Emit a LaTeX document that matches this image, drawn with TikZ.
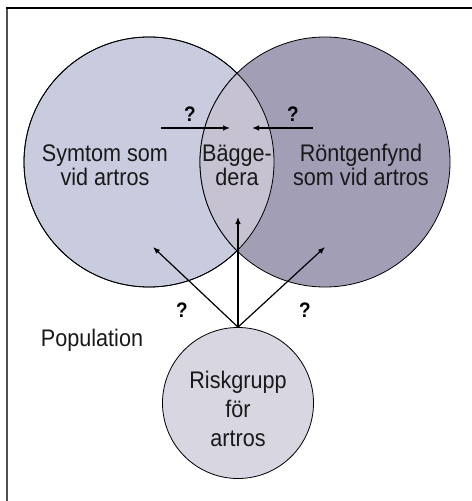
\documentclass[tikz,border=0pt]{standalone}
\usepackage{fontspec}
\setmainfont{Liberation Sans}[FakeStretch=0.9]
\usepackage{tikz}
\usetikzlibrary{arrows.meta, positioning, calc}
\definecolor{symfill}{RGB}{200, 204, 222}
\definecolor{rtgfill}{RGB}{161, 158, 182}
\definecolor{bothfill}{RGB}{198, 194, 210}
\definecolor{riskfill}{RGB}{216, 214, 224}
\definecolor{framegray}{RGB}{80, 80, 80}

\begin{document}
\begin{tikzpicture}[x=1bp, y=-1bp,
    venn/.style={circle, draw, line width=0.8bp, inner sep=0pt, minimum size=250bp},
    lbl/.style={align=center, text=black!90, font=\fontsize{24bp}{24bp}\selectfont},
    ask/.style={font=\fontsize{21bp}{20bp}\selectfont\bfseries},
    pil/.style={-{Latex[length=7bp, width=5.5bp]}, line width=1.2bp}]
    \useasboundingbox (0,0) rectangle (472,501);

    % Ram
    \draw[framegray, line width=2bp] (7,8) -- (7,501);
    \draw[black, line width=1.5bp] (6,8) -- (472,8);

    % Cirklar
    \node[venn, fill=symfill] (symtom) at (149,162) {};
    \node[venn, fill=rtgfill] (rontgen) at (325,162) {};
    \begin{scope}
        \clip (symtom.center) circle (125bp);
        \fill[bothfill, draw=black, line width=0.8bp] (rontgen.center) circle (125bp);
    \end{scope}
    \draw[line width=0.8bp] (symtom.center) circle (125bp);
    \node[venn, fill=riskfill, minimum size=151bp] (risk) at (238,403) {};

    % Texter
    \node[lbl] (symtxt) at (105,165) {Symtom som\\vid artros};
    \node[lbl] (bothtxt) at (237,165) {Bägge-\\dera};
    \node[lbl] (rtgtxt) at (361,165) {Röntgenfynd\\som vid artros};
    \node[lbl] (poptxt) at (92,340) {Population};
    \node[lbl, font=\fontsize{24bp}{29bp}\selectfont] (risktxt) at (238,409) {Riskgrupp\\för\\artros};

    % Pilar
    \coordinate (tipL) at (153,247);
    \coordinate (tipM) at (238,217);
    \coordinate (tipR) at (325,247);
    \foreach \t in {tipL, tipM, tipR}
        \draw[pil] (risk.north) -- (\t);
    \coordinate (fromL) at (161,128);
    \coordinate (toL) at (230,128);
    \coordinate (fromR) at (313,128);
    \coordinate (toR) at (252,128);
    \draw[pil] (fromL) -- (toL);
    \draw[pil] (fromR) -- (toR);

    % Frågetecken
    \node[ask] (q1) at (190,114) {?};
    \node[ask] (q2) at (293,114) {?};
    \node[ask] (q3) at (182,310) {?};
    \node[ask] (q4) at (305,310) {?};
\end{tikzpicture}
\end{document}
